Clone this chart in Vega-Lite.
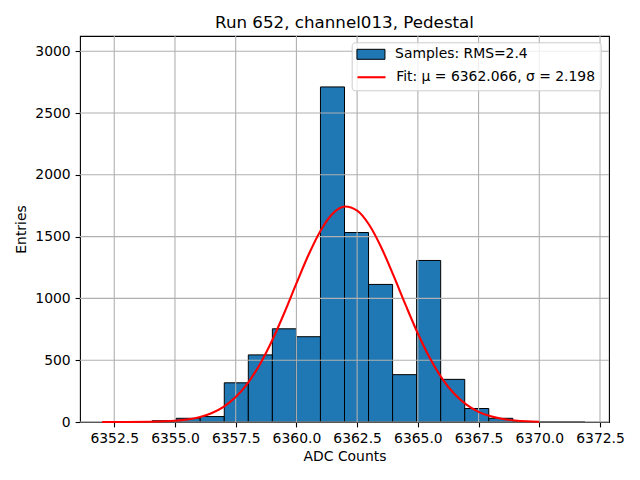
{
  "$schema": "https://vega.github.io/schema/vega-lite/v6.json",
  "autosize": "none",
  "width": 529,
  "height": 386,
  "padding": {"left": 80, "top": 36, "right": 31, "bottom": 58},
  "background": "white",
  "title": {
    "text": "Run 652, channel013, Pedestal",
    "fontSize": 16.7,
    "fontWeight": "normal",
    "font": "DejaVu Sans",
    "color": "black",
    "anchor": "middle",
    "baseline": "alphabetic",
    "offset": 8.3,
    "dy": 18
  },
  "config": {
    "font": "DejaVu Sans",
    "view": {"stroke": "black", "strokeWidth": 1.1},
    "axis": {
      "labelFont": "DejaVu Sans",
      "labelFontSize": 13.9,
      "labelColor": "black",
      "titleFont": "DejaVu Sans",
      "titleFontSize": 13.9,
      "titleFontWeight": "normal",
      "titleColor": "black",
      "tickColor": "black",
      "tickSize": 4.9,
      "tickWidth": 1.1,
      "labelPadding": 4.9,
      "domain": false,
      "grid": false
    },
    "legend": {
      "orient": "none",
      "labelFont": "DejaVu Sans",
      "labelFontSize": 13.9,
      "labelColor": "black",
      "labelLimit": 400,
      "symbolSize": 144,
      "symbolOffset": 6.7,
      "labelOffset": 17.2
    }
  },
  "resolve": {"legend": {"color": "independent"}},
  "layer": [
    {
      "data": {
        "values": [
          {"start": 6352.08, "end": 6353.07, "count": 1, "series": "Samples: RMS=2.4"},
          {"start": 6353.07, "end": 6354.06, "count": 3, "series": "Samples: RMS=2.4"},
          {"start": 6354.06, "end": 6355.05, "count": 10, "series": "Samples: RMS=2.4"},
          {"start": 6355.05, "end": 6356.04, "count": 30, "series": "Samples: RMS=2.4"},
          {"start": 6356.04, "end": 6357.03, "count": 44, "series": "Samples: RMS=2.4"},
          {"start": 6357.03, "end": 6358.02, "count": 317, "series": "Samples: RMS=2.4"},
          {"start": 6358.02, "end": 6359.01, "count": 543, "series": "Samples: RMS=2.4"},
          {"start": 6359.01, "end": 6360.0, "count": 754, "series": "Samples: RMS=2.4"},
          {"start": 6360.0, "end": 6360.99, "count": 690, "series": "Samples: RMS=2.4"},
          {"start": 6360.99, "end": 6361.98, "count": 2711, "series": "Samples: RMS=2.4"},
          {"start": 6361.98, "end": 6362.97, "count": 1533, "series": "Samples: RMS=2.4"},
          {"start": 6362.97, "end": 6363.96, "count": 1113, "series": "Samples: RMS=2.4"},
          {"start": 6363.96, "end": 6364.95, "count": 383, "series": "Samples: RMS=2.4"},
          {"start": 6364.95, "end": 6365.94, "count": 1307, "series": "Samples: RMS=2.4"},
          {"start": 6365.94, "end": 6366.93, "count": 345, "series": "Samples: RMS=2.4"},
          {"start": 6366.93, "end": 6367.92, "count": 109, "series": "Samples: RMS=2.4"},
          {"start": 6367.92, "end": 6368.91, "count": 30, "series": "Samples: RMS=2.4"},
          {"start": 6368.91, "end": 6369.9, "count": 3, "series": "Samples: RMS=2.4"},
          {"start": 6369.9, "end": 6370.89, "count": 0, "series": "Samples: RMS=2.4"},
          {"start": 6370.89, "end": 6371.88, "count": 0, "series": "Samples: RMS=2.4"}
        ]
      },
      "mark": {"type": "rect", "stroke": "black", "strokeWidth": 1},
      "encoding": {
        "x": {
          "field": "start",
          "type": "quantitative",
          "title": "ADC Counts",
          "scale": {"domain": [6351.09, 6372.87], "nice": false, "zero": false},
          "axis": {
            "values": [6352.5, 6355, 6357.5, 6360, 6362.5, 6365, 6367.5, 6370, 6372.5],
            "format": ".1f",
            "titlePadding": 4
          }
        },
        "x2": {"field": "end"},
        "y": {
          "field": "count",
          "type": "quantitative",
          "title": "Entries",
          "scale": {"domain": [0, 3123], "nice": false},
          "axis": {"values": [0, 500, 1000, 1500, 2000, 2500, 3000], "format": "d", "titlePadding": 6}
        },
        "y2": {"datum": 0},
        "color": {
          "field": "series",
          "type": "nominal",
          "scale": {
            "domain": ["Samples: RMS=2.4", "Fit: μ = 6362.066, σ = 2.198"],
            "range": ["#1f77b4", "red"]
          },
          "legend": {
            "title": null,
            "values": ["Samples: RMS=2.4"],
            "legendX": 277.3,
            "legendY": 11.35,
            "padding": 0,
            "zindex": 2,
            "symbolType": "M-2.333,-0.833H2.333V0.833H-2.333Z",
            "symbolStrokeColor": "black",
            "symbolStrokeWidth": 1,
            "symbolFillColor": "#1f77b4"
          }
        }
      }
    },
    {
      "data": {
        "values": [
          {"v": 6352.5}, {"v": 6355}, {"v": 6357.5}, {"v": 6360}, {"v": 6362.5},
          {"v": 6365}, {"v": 6367.5}, {"v": 6370}, {"v": 6372.5}
        ]
      },
      "mark": {"type": "rule", "color": "#b0b0b0", "strokeWidth": 1.1},
      "encoding": {"x": {"field": "v", "type": "quantitative"}}
    },
    {
      "data": {
        "values": [
          {"v": 0}, {"v": 500}, {"v": 1000}, {"v": 1500}, {"v": 2000}, {"v": 2500}, {"v": 3000}
        ]
      },
      "mark": {"type": "rule", "color": "#b0b0b0", "strokeWidth": 1.1},
      "encoding": {"y": {"field": "v", "type": "quantitative"}}
    },
    {
      "data": {
        "values": [
          {"adc": 6352.0, "fit": 0.05, "series": "Fit: μ = 6362.066, σ = 2.198"},
          {"adc": 6353.0, "fit": 0.35, "series": "Fit: μ = 6362.066, σ = 2.198"},
          {"adc": 6354.0, "fit": 2.1, "series": "Fit: μ = 6362.066, σ = 2.198"},
          {"adc": 6355.0, "fit": 9.9, "series": "Fit: μ = 6362.066, σ = 2.198"},
          {"adc": 6355.5, "fit": 20, "series": "Fit: μ = 6362.066, σ = 2.198"},
          {"adc": 6356.0, "fit": 38.7, "series": "Fit: μ = 6362.066, σ = 2.198"},
          {"adc": 6356.5, "fit": 70.6, "series": "Fit: μ = 6362.066, σ = 2.198"},
          {"adc": 6357.0, "fit": 122.5, "series": "Fit: μ = 6362.066, σ = 2.198"},
          {"adc": 6357.5, "fit": 201.6, "series": "Fit: μ = 6362.066, σ = 2.198"},
          {"adc": 6358.0, "fit": 315, "series": "Fit: μ = 6362.066, σ = 2.198"},
          {"adc": 6358.5, "fit": 468, "series": "Fit: μ = 6362.066, σ = 2.198"},
          {"adc": 6359.0, "fit": 659, "series": "Fit: μ = 6362.066, σ = 2.198"},
          {"adc": 6359.5, "fit": 882, "series": "Fit: μ = 6362.066, σ = 2.198"},
          {"adc": 6360.0, "fit": 1121, "series": "Fit: μ = 6362.066, σ = 2.198"},
          {"adc": 6360.5, "fit": 1353, "series": "Fit: μ = 6362.066, σ = 2.198"},
          {"adc": 6361.0, "fit": 1550, "series": "Fit: μ = 6362.066, σ = 2.198"},
          {"adc": 6361.5, "fit": 1687, "series": "Fit: μ = 6362.066, σ = 2.198"},
          {"adc": 6362.0, "fit": 1743, "series": "Fit: μ = 6362.066, σ = 2.198"},
          {"adc": 6362.5, "fit": 1710, "series": "Fit: μ = 6362.066, σ = 2.198"},
          {"adc": 6363.0, "fit": 1594, "series": "Fit: μ = 6362.066, σ = 2.198"},
          {"adc": 6363.5, "fit": 1410, "series": "Fit: μ = 6362.066, σ = 2.198"},
          {"adc": 6364.0, "fit": 1184, "series": "Fit: μ = 6362.066, σ = 2.198"},
          {"adc": 6364.5, "fit": 945, "series": "Fit: μ = 6362.066, σ = 2.198"},
          {"adc": 6365.0, "fit": 716, "series": "Fit: μ = 6362.066, σ = 2.198"},
          {"adc": 6365.5, "fit": 515, "series": "Fit: μ = 6362.066, σ = 2.198"},
          {"adc": 6366.0, "fit": 351, "series": "Fit: μ = 6362.066, σ = 2.198"},
          {"adc": 6366.5, "fit": 228, "series": "Fit: μ = 6362.066, σ = 2.198"},
          {"adc": 6367.0, "fit": 140, "series": "Fit: μ = 6362.066, σ = 2.198"},
          {"adc": 6367.5, "fit": 82, "series": "Fit: μ = 6362.066, σ = 2.198"},
          {"adc": 6368.0, "fit": 45.6, "series": "Fit: μ = 6362.066, σ = 2.198"},
          {"adc": 6368.5, "fit": 24, "series": "Fit: μ = 6362.066, σ = 2.198"},
          {"adc": 6369.0, "fit": 12, "series": "Fit: μ = 6362.066, σ = 2.198"},
          {"adc": 6369.5, "fit": 5.7, "series": "Fit: μ = 6362.066, σ = 2.198"},
          {"adc": 6370.0, "fit": 2.6, "series": "Fit: μ = 6362.066, σ = 2.198"}
        ]
      },
      "mark": {"type": "line", "strokeWidth": 2.1, "interpolate": "monotone"},
      "encoding": {
        "x": {"field": "adc", "type": "quantitative"},
        "y": {"field": "fit", "type": "quantitative"},
        "color": {
          "field": "series",
          "type": "nominal",
          "legend": {
            "title": " ",
            "titleFontSize": 13.9,
            "titlePadding": 7.95,
            "values": ["Fit: μ = 6362.066, σ = 2.198"],
            "legendX": 271.7,
            "legendY": 6.3,
            "padding": 5.6,
            "zindex": 1,
            "strokeColor": "#cccccc",
            "fillColor": "rgba(255,255,255,0.8)",
            "cornerRadius": 3,
            "symbolType": "M-2.333,0H2.333",
            "symbolStrokeColor": "red",
            "symbolStrokeWidth": 2.1,
            "symbolFillColor": "transparent"
          }
        }
      }
    }
  ]
}
